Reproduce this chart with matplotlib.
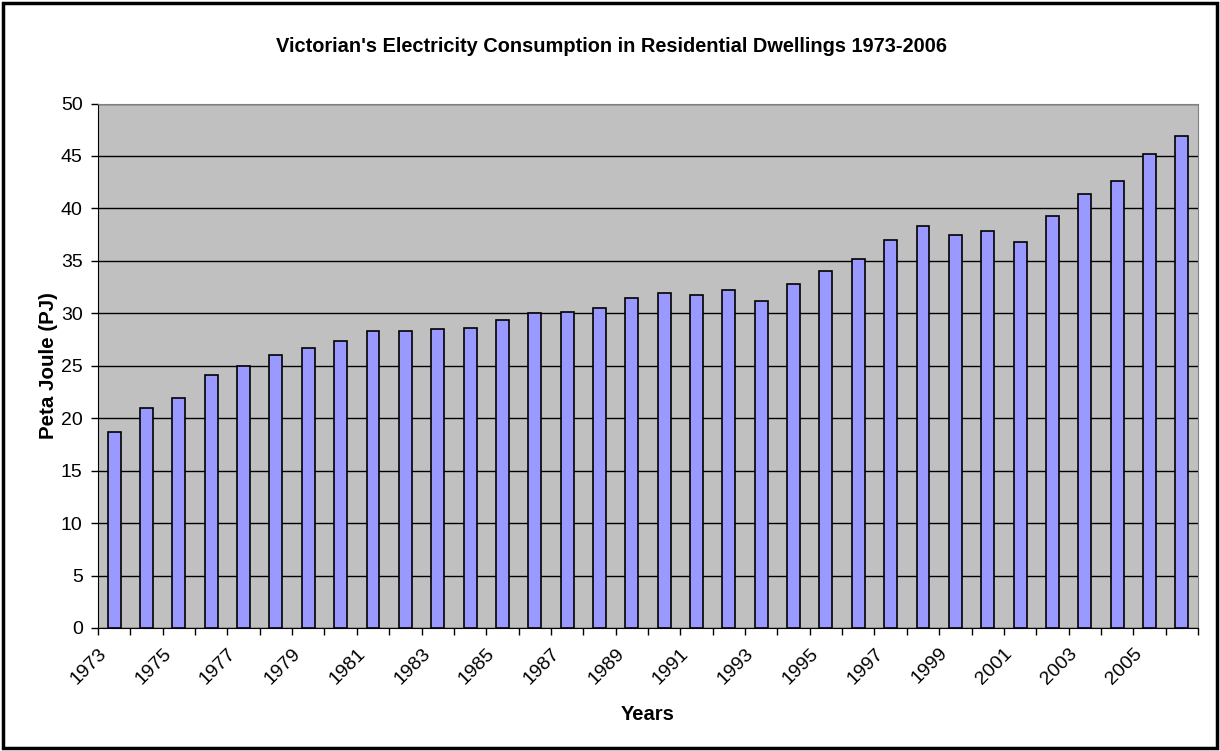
import matplotlib.pyplot as plt
from matplotlib.patches import Rectangle

plt.rcParams['font.family'] = ['Liberation Sans', 'DejaVu Sans']

years = list(range(1973, 2007))
consumption = [18.7, 21.0, 21.9, 24.1, 25.0, 26.0, 26.7, 27.4, 28.3, 28.3,
               28.5, 28.6, 29.4, 30.0, 30.1, 30.5, 31.5, 31.9, 31.7, 32.2,
               31.2, 32.8, 34.0, 35.2, 37.0, 38.3, 37.5, 37.8, 36.8, 39.3,
               41.4, 42.6, 45.2, 46.9]
tick_years = years[::2]

fig = plt.figure(figsize=(12.2, 7.51), dpi=100)
ax = fig.add_axes([98/1220, 1 - 628/751, 1100/1220, 524.5/751])

pos = list(range(len(years)))
ax.set_facecolor('#C0C0C0')
ax.bar(pos, consumption, width=0.4, color='#9999FF', edgecolor='black',
       linewidth=1.2, zorder=3)

ax.set_xlim(-0.5, len(years) - 0.5)
ax.set_ylim(0, 50)
ax.set_yticks(range(0, 51, 5))
ax.yaxis.grid(True, color='black', linewidth=1.0, zorder=1)
ax.set_axisbelow(True)

# ticks sit on category boundaries, labels on every second category
ax.set_xticks([p - 0.5 for p in pos] + [len(years) - 0.5])
ax.set_xticklabels([])
for i, y in enumerate(years):
    if y in tick_years:
        ax.text(i - 0.5, -1.6, str(y), rotation=45, ha='right', va='top',
                rotation_mode='anchor', fontsize=14)

ax.tick_params(axis='both', direction='out', length=5, width=1, labelsize=14,
               color='black')
ax.tick_params(axis='y', pad=6)
for s in ['top', 'right']:
    ax.spines[s].set_color('#808080')
for s in ['left', 'bottom']:
    ax.spines[s].set_color('black')

ax.set_xlabel('Years', fontsize=14.5, fontweight='bold', labelpad=47)
ax.set_ylabel('Peta Joule (PJ)', fontsize=14.8, fontweight='bold', labelpad=2)

fig.text(611/1220, 1 - 47/751, "Victorian's Electricity Consumption in Residential Dwellings 1973-2006",
         ha='center', va='center', fontsize=14.4, fontweight='bold')

fig.patches.append(Rectangle((3/1220, 3/751), 1214/1220, 745/751,
                             transform=fig.transFigure, fill=False,
                             edgecolor='black', linewidth=2.5))

fig.savefig('out.png', dpi=100)
